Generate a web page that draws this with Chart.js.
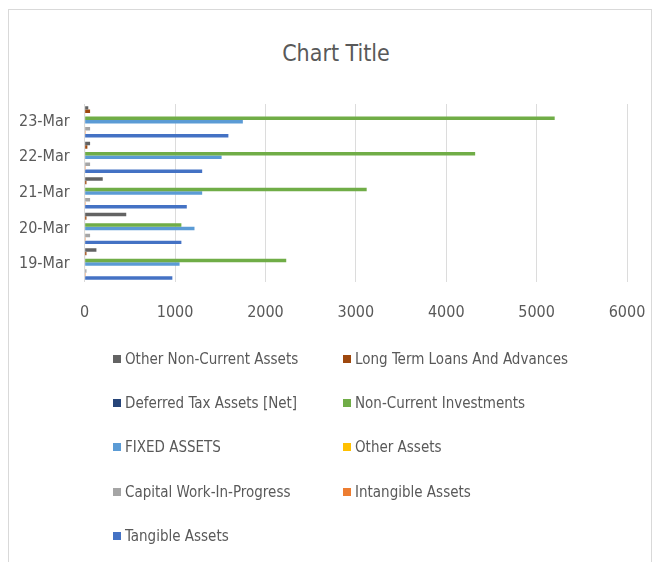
<!DOCTYPE html>
<html>
<head>
<meta charset="utf-8">
<script src="https://cdn.jsdelivr.net/npm/chart.js@4/dist/chart.umd.min.js"></script>
<style>
  html, body { margin: 0; padding: 0; background: #fff; }
  body { width: 660px; height: 562px; position: relative; overflow: hidden; }
  #frame {
    position: absolute; left: 8px; top: 9px; width: 644px; height: 600px;
    border: 1px solid #d9d9d9; box-sizing: border-box;
  }
  #title {
    position: absolute; left: 136px; width: 400px; top: 39px; height: 28px;
    line-height: 28px; text-align: center; color: #595959;
    font-family: "Liberation Sans Narrow", "DejaVu Sans Condensed", sans-serif;
    font-size: 23px;
  }
  #wrap { position: absolute; left: 0px; top: 10px; width: 651px; height: 343px; }
  #legend {
    position: absolute; left: 113px; top: 346px;
    display: grid; grid-template-columns: 230px 230px; grid-auto-rows: 44.2px;
    font-family: "Liberation Sans Narrow", "DejaVu Sans Condensed", sans-serif;
    font-size: 15px; color: #595959;
  }
  .item { display: flex; align-items: center; height: 26px; white-space: nowrap; }
  .sw { width: 8px; height: 8px; margin-right: 4px; flex: none; }
</style>
</head>
<body>
<div id="frame"></div>
<div id="title">Chart Title</div>
<div id="wrap"><canvas id="c"></canvas></div>
<div id="legend"></div>
<script>
// Reporting dates (bottom to top on the chart)
const dates = ['19-Mar', '20-Mar', '21-Mar', '22-Mar', '23-Mar'];

// Balance-sheet lines, one array per item, values by date
const otherNonCurrentAssets   = [130, 460, 200, 60, 40];
const longTermLoansAdvances   = [20, 20, 20, 30, 60];
const deferredTaxAssetsNet    = [5, 5, 5, 5, 5];
const nonCurrentInvestments   = [2230, 1070, 3120, 4320, 5200];
const fixedAssets             = [1050, 1215, 1300, 1515, 1750];
const otherAssets             = [5, 5, 5, 5, 5];
const capitalWorkInProgress   = [20, 60, 60, 60, 60];
const intangibleAssets        = [10, 10, 10, 10, 10];
const tangibleAssets          = [970, 1070, 1130, 1300, 1590];

const xTicks = [0, 1000, 2000, 3000, 4000, 5000, 6000];

const seriesNames = [
  'Other Non-Current Assets', 'Long Term Loans And Advances',
  'Deferred Tax Assets [Net]', 'Non-Current Investments',
  'FIXED ASSETS', 'Other Assets',
  'Capital Work-In-Progress', 'Intangible Assets',
  'Tangible Assets'
];
const seriesValues = [
  otherNonCurrentAssets, longTermLoansAdvances,
  deferredTaxAssetsNet, nonCurrentInvestments,
  fixedAssets, otherAssets,
  capitalWorkInProgress, intangibleAssets,
  tangibleAssets
];
const seriesColors = [
  '#636363', '#9E480E', '#264478', '#70AD47', '#5B9BD5',
  '#FFC000', '#A5A5A5', '#ED7D31', '#4472C4'
];

const FONT = '"Liberation Sans Narrow", "DejaVu Sans Condensed", sans-serif';

const chart = new Chart(document.getElementById('c'), {
  type: 'bar',
  data: {
    labels: dates,
    datasets: seriesNames.map((name, i) => ({
      label: name,
      data: seriesValues[i],
      backgroundColor: seriesColors[i],
      borderWidth: 0,
      categoryPercentage: 0.88,
      barPercentage: 1.0
    }))
  },
  options: {
    indexAxis: 'y',
    responsive: true,
    maintainAspectRatio: false,
    animation: false,
    layout: { padding: { left: 4, right: 24, top: 94, bottom: 10 } },
    plugins: {
      legend: { display: false },
      tooltip: { enabled: false },
      title: { display: false }
    },
    scales: {
      x: {
        min: 0, max: 6000,
        afterBuildTicks: (axis) => { axis.ticks = xTicks.map(v => ({ value: v })); },
        // end labels may overhang the plot edge into the layout padding
        afterFit: (axis) => { axis.paddingLeft = 0; axis.paddingRight = 0; },
        grid: { color: '#dcdcdc', drawTicks: false },
        border: { display: false },
        ticks: {
          color: '#595959', font: { family: FONT, size: 16 }, padding: 21,
          callback: (v) => String(v)
        }
      },
      y: {
        reverse: true,
        grid: { display: false, drawTicks: false },
        border: { display: true, color: '#d9d9d9' },
        ticks: { color: '#595959', font: { family: FONT, size: 16 }, padding: 15 }
      }
    }
  }
});

// Two-column legend built from the chart's datasets
const legend = document.getElementById('legend');
chart.data.datasets.forEach(ds => {
  const item = document.createElement('div');
  item.className = 'item';
  const sw = document.createElement('span');
  sw.className = 'sw';
  sw.style.background = ds.backgroundColor;
  const tx = document.createElement('span');
  tx.textContent = ds.label;
  item.appendChild(sw);
  item.appendChild(tx);
  legend.appendChild(item);
});
</script>
</body>
</html>
